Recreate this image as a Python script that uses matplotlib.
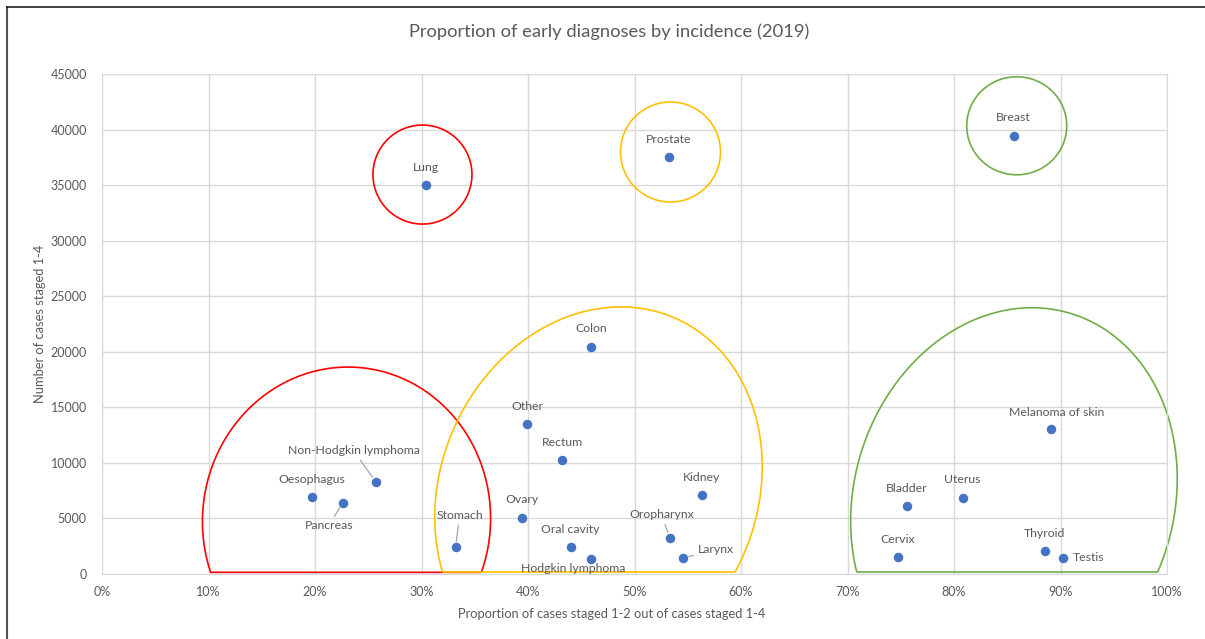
import numpy as np
import matplotlib
matplotlib.use("Agg")
import matplotlib.pyplot as plt
from matplotlib.patches import Polygon
from matplotlib.lines import Line2D
from matplotlib.ticker import PercentFormatter

plt.rcParams['font.family'] = ['Lato', 'DejaVu Sans']

# data: proportion staged 1-2 (fraction), number of cases staged 1-4
sites = ['Lung', 'Prostate', 'Breast', 'Colon', 'Other', 'Rectum', 'Kidney',
         'Ovary', 'Oral cavity', 'Hodgkin lymphoma', 'Oropharynx', 'Larynx',
         'Stomach', 'Oesophagus', 'Pancreas', 'Non-Hodgkin lymphoma',
         'Melanoma of skin', 'Bladder', 'Uterus', 'Cervix', 'Thyroid', 'Testis']
early_share = [0.304, 0.532, 0.856, 0.459, 0.399, 0.432, 0.563,
               0.394, 0.440, 0.459, 0.533, 0.546,
               0.332, 0.197, 0.226, 0.257,
               0.891, 0.756, 0.808, 0.747, 0.885, 0.902]
cases = [35000, 37500, 39450, 20450, 13500, 10250, 7100,
         5050, 2400, 1350, 3250, 1450,
         2400, 6900, 6400, 8300,
         13050, 6100, 6850, 1500, 2050, 1450]

# label offsets in pixels (dx, dy) and whether a leader line is drawn
label_off = {
    'Hodgkin lymphoma': (-18, -10, False),
    'Oropharynx': (-8, 23, True),
    'Larynx': (14, 8, True),
    'Stomach': (4, 32, True),
    'Pancreas': (-14, -23, True),
    'Non-Hodgkin lymphoma': (-22, 31, True),
    'Melanoma of skin': (6, 17, False),
    'Testis': (10, 0, True),
}

fig = plt.figure(figsize=(12.05, 6.39), dpi=100)
ax = fig.add_axes([102 / 1205, 1 - 574 / 639, 1065 / 1205, 500 / 639])
ax.set_xlim(0, 1)
ax.set_ylim(0, 45000)
ax.set_xticks(np.arange(0, 1.01, 0.1))
ax.set_yticks(np.arange(0, 45001, 5000))
ax.xaxis.set_major_formatter(PercentFormatter(1.0, decimals=0))
ax.grid(True, color='#d9d9d9', lw=1)
ax.set_axisbelow(True)
for s in ax.spines.values():
    s.set_color('#d9d9d9')
ax.tick_params(length=0, colors='#595959', labelsize=9, pad=9)
ax.tick_params(axis='y', pad=11)

ax.scatter(early_share, cases, s=34, color='#4472C4', zorder=3)

for name, x, y in zip(sites, early_share, cases):
    dx, dy, line = label_off.get(name, (0, 18, False))
    ha = 'left' if name in ('Larynx', 'Testis') else 'center'
    ap = dict(arrowstyle='-', color='#a6a6a6', lw=0.9, shrinkA=1, shrinkB=4) if line else None
    ax.annotate(name, (x, y), xytext=(dx, dy), textcoords='offset pixels',
                ha=ha, va='center', fontsize=8.8, color='#595959',
                arrowprops=ap, zorder=4)

fig.text(609 / 1205, 1 - 32 / 639, 'Proportion of early diagnoses by incidence (2019)',
         fontsize=13.2, color='#595959', ha='center', va='center')
ax.set_xlabel('Proportion of cases staged 1-2 out of cases staged 1-4',
              fontsize=9.3, color='#595959', va='center')
ax.xaxis.set_label_coords((612 - 102) / 1065, -40 / 500)
ax.set_ylabel('Number of cases staged 1-4', fontsize=9.3, color='#595959', va='center')
ax.yaxis.set_label_coords(-62 / 1065, 0.5)


def outline(cx, cy, a, b, angle, color, base=None):
    # ellipse drawn in pixel space around a data centre, cut flat at `base`
    c = ax.transData.transform((cx, cy))
    t = np.linspace(0, 2 * np.pi, 500)
    th = np.deg2rad(angle)
    px = a * np.cos(t) * np.cos(th) - b * np.sin(t) * np.sin(th) + c[0]
    py = a * np.cos(t) * np.sin(th) + b * np.sin(t) * np.cos(th) + c[1]
    if base is not None:
        yb = ax.transData.transform((0, base))[1]
        py = np.maximum(py, yb)
    pts = ax.transData.inverted().transform(np.column_stack([px, py]))
    ax.add_patch(Polygon(pts, closed=True, fill=False, ec=color, lw=1.2,
                         zorder=2, clip_on=False))


outline(0.3009, 35950, 49.5, 49.5, 0, '#FF0000')
outline(0.5338, 37980, 50, 50, 0, '#FFC000')
outline(0.8589, 40340, 50, 49, 0, '#70AD47')
outline(0.2296, 4860, 144, 153, -5, '#FF0000', base=150)
outline(0.4662, 7380, 158, 190, -24, '#FFC000', base=180)
outline(0.8563, 6660, 160, 195, -17, '#70AD47', base=180)

# chart frame edges
fig.add_artist(Line2D([7 / 1205, 7 / 1205], [0, 1 - 7 / 639], color='#555555', lw=1.5))
fig.add_artist(Line2D([7 / 1205, 1], [1 - 7 / 639, 1 - 7 / 639], color='#222222', lw=1.2))

fig.savefig('out.png', dpi=100)
